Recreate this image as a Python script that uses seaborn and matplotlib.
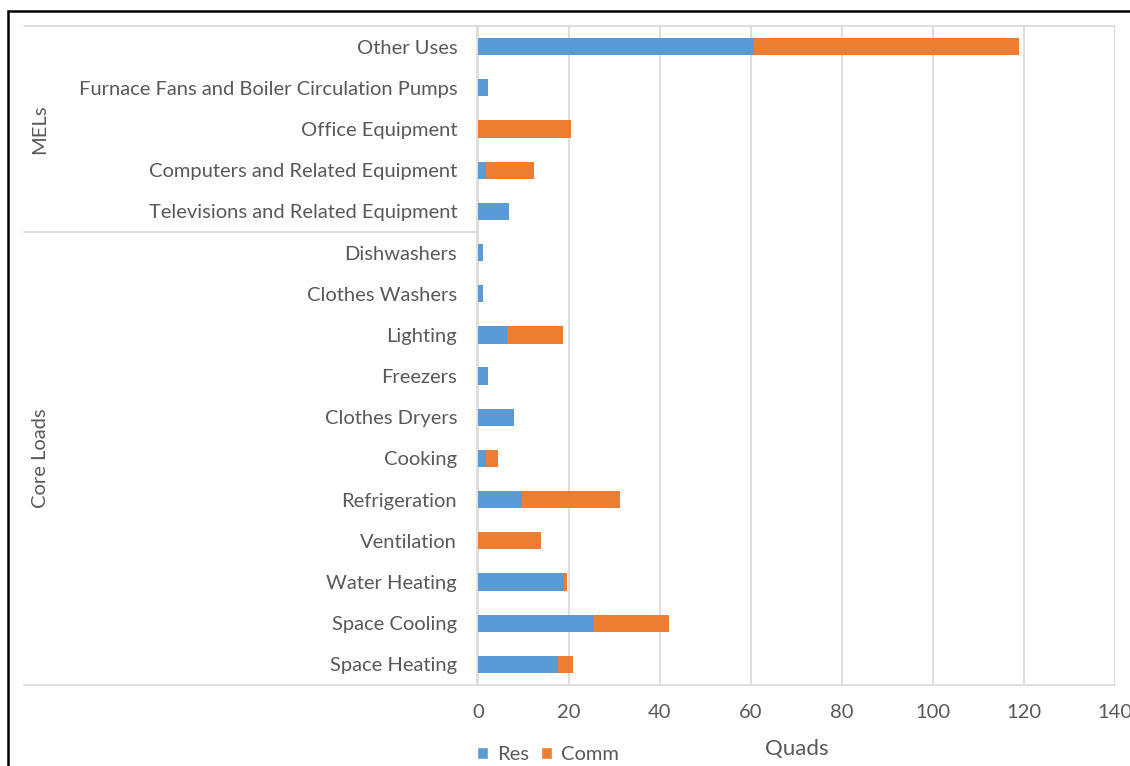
import matplotlib
matplotlib.use("Agg")
import matplotlib.pyplot as plt
import seaborn as sns
import pandas as pd
from matplotlib.patches import Rectangle, Patch
from matplotlib.lines import Line2D

# End-use categories, top to bottom
categories = [
    "Other Uses",
    "Furnace Fans and Boiler Circulation Pumps",
    "Office Equipment",
    "Computers and Related Equipment",
    "Televisions and Related Equipment",
    "Dishwashers",
    "Clothes Washers",
    "Lighting",
    "Freezers",
    "Clothes Dryers",
    "Cooking",
    "Refrigeration",
    "Ventilation",
    "Water Heating",
    "Space Cooling",
    "Space Heating",
]
res = [60.7, 2.3, 0.0, 1.7, 6.8, 1.2, 1.2, 6.3, 2.2, 7.9, 1.8, 9.6, 0.0, 19.0, 25.4, 17.6]
comm = [58.2, 0.0, 20.4, 10.6, 0.0, 0.0, 0.0, 12.3, 0.0, 0.0, 2.6, 21.6, 13.8, 0.6, 16.6, 3.2]
groups = ["MELs", "Core Loads"]
group_sizes = [5, 11]
series = ["Res", "Comm"]
xticks = [0, 20, 40, 60, 80, 100, 120, 140]
xlabel = "Quads"

BLUE = "#5B9BD5"
ORANGE = "#ED7D31"
TXT = "#595959"
GRID = "#D9D9D9"
FS = 14.5

sns.set_theme(style="white")
plt.rcParams["font.family"] = ["Lato", "DejaVu Sans"]

W, H = 1130, 766
fig = plt.figure(figsize=(W / 100, H / 100), dpi=100)
fig.patch.set_facecolor("white")

def fx(px):
    return px / W

def fy(py):
    return 1 - py / H

x0, x1, y0, y1 = 478, 1115, 26, 685
ax = fig.add_axes([fx(x0), fy(y1), fx(x1 - x0), (y1 - y0) / H])

df = pd.DataFrame({"category": categories, "Res": res, "Comm": comm})
df["Total"] = df["Res"] + df["Comm"]

# Stacked bars: the total (orange) underneath, residential (blue) on top
sns.barplot(data=df, x="Total", y="category", color=ORANGE, width=0.42,
            saturation=1, edgecolor="none", ax=ax, zorder=3)
sns.barplot(data=df, x="Res", y="category", color=BLUE, width=0.42,
            saturation=1, edgecolor="none", ax=ax, zorder=4)

ax.set_xlim(0, 140)
ax.set_ylim(len(categories) - 0.5, -0.5)
ax.set_xticks(xticks)
ax.set_xticklabels([str(t) for t in xticks])
ax.grid(axis="x", color=GRID, lw=1.2, zorder=0)
ax.grid(axis="y", visible=False)
for s in ax.spines.values():
    s.set_visible(False)
ax.tick_params(axis="both", length=0, colors=TXT, labelsize=FS)
ax.tick_params(axis="y", pad=15)
ax.tick_params(axis="x", pad=14)
ax.set_ylabel("")
ax.set_xlabel(xlabel, fontsize=16, color=TXT, labelpad=13)

# Category-axis frame lines
line_kw = dict(color=GRID, lw=1.2, transform=fig.transFigure)
fig.add_artist(Line2D([fx(24), fx(x1)], [fy(y0), fy(y0)], **line_kw))
fig.add_artist(Line2D([fx(24), fx(x1)], [fy(y1), fy(y1)], **line_kw))
sep_y = y0 + (y1 - y0) * group_sizes[0] / len(categories)
fig.add_artist(Line2D([fx(24), fx(x0)], [fy(sep_y), fy(sep_y)], **line_kw))
fig.add_artist(Line2D([fx(x0 - 1), fx(x0 - 1)], [fy(y0), fy(y1)], **line_kw))

# Group labels on the outer category level
start = 0
for g, n in zip(groups, group_sizes):
    mid = y0 + (y1 - y0) * (start + n / 2) / len(categories)
    fig.text(fx(40), fy(mid), g, rotation=90, ha="center", va="center",
             color=TXT, fontsize=FS)
    start += n

# Legend
handles = [Patch(facecolor=BLUE), Patch(facecolor=ORANGE)]
fig.legend(handles, series, loc="center left", bbox_to_anchor=(fx(459), fy(755)),
           ncol=2, frameon=False, handlelength=0.55, handleheight=0.55,
           handletextpad=0.45, columnspacing=0.6, fontsize=FS, labelcolor=TXT)

# Outer frame
fig.add_artist(Rectangle((fx(8), fy(780)), fx(1200), (780 - 11) / H,
                         transform=fig.transFigure, fill=False,
                         edgecolor="black", lw=1.8))

fig.savefig("out.png", dpi=100)
